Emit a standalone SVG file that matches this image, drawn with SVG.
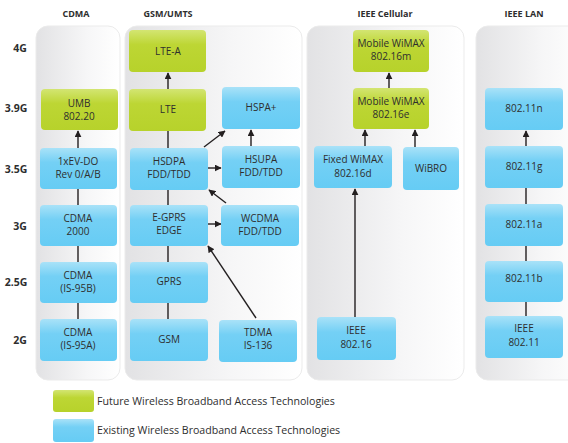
<svg xmlns="http://www.w3.org/2000/svg" width="568" height="443" viewBox="0 0 568 443">
<defs>
<linearGradient id="panel" x1="0" y1="0" x2="1" y2="0">
<stop offset="0" stop-color="#e2e2e4"/>
<stop offset="0.6" stop-color="#f6f6f7"/>
<stop offset="1" stop-color="#ffffff"/>
</linearGradient>
<linearGradient id="blue" x1="0" y1="0" x2="0" y2="1">
<stop offset="0" stop-color="#a9e2f8"/>
<stop offset="0.35" stop-color="#74d0f5"/>
<stop offset="1" stop-color="#66ccf4"/>
</linearGradient>
<linearGradient id="green" x1="0" y1="0" x2="0" y2="1">
<stop offset="0" stop-color="#d3e572"/>
<stop offset="0.35" stop-color="#bdd634"/>
<stop offset="1" stop-color="#b7d22b"/>
</linearGradient>
<marker id="ah" viewBox="0 0 10 10" refX="9" refY="5" markerWidth="7" markerHeight="7" orient="auto" markerUnits="userSpaceOnUse">
<path d="M0,0 L10,5 L0,10 z" fill="#231f20"/>
</marker>
<style>
.panel{fill:url(#panel);stroke:#ebebeb;stroke-width:1}
.b{fill:url(#blue)}
.g{fill:url(#green)}
text{font-family:"Open Sans","Liberation Sans",sans-serif;font-size:10px;fill:#2e2e2e;text-anchor:middle}
.hdr{font-weight:bold;font-size:9px}
.row{font-weight:bold;font-size:10.5px;text-anchor:middle}
.leg{text-anchor:start;font-size:10.6px}
.c line{stroke:#231f20;stroke-width:1.4}
.c .a{marker-end:url(#ah)}
</style>
</defs>
<rect width="568" height="443" fill="#ffffff"/>

<g id="panels">
<rect class="panel" x="36" y="26" width="84" height="354" rx="12"/>
<rect class="panel" x="125" y="26" width="177" height="354" rx="12"/>
<rect class="panel" x="307" y="26" width="157" height="354" rx="12"/>
<rect class="panel" x="476" y="26" width="110" height="354" rx="12"/>
</g>

<g id="headers">
<text class="hdr" x="76" y="17">CDMA</text>
<text class="hdr" x="168" y="17">GSM/UMTS</text>
<text class="hdr" x="385" y="17">IEEE Cellular</text>
<text class="hdr" x="524" y="17">IEEE LAN</text>
</g>

<g id="rows">
<text class="row" x="20" y="52">4G</text>
<text class="row" x="16" y="112">3.9G</text>
<text class="row" x="16" y="173">3.5G</text>
<text class="row" x="20" y="230">3G</text>
<text class="row" x="16" y="286">2.5G</text>
<text class="row" x="20" y="344">2G</text>
</g>

<g class="c" id="connectors">
<line x1="78" y1="319" x2="78" y2="303"/>
<line x1="78" y1="262" x2="78" y2="246"/>
<line x1="78" y1="205" x2="78" y2="189"/>
<line class="a" x1="78" y1="148" x2="78" y2="131"/>
<line x1="168" y1="319" x2="168" y2="303"/>
<line x1="168" y1="262" x2="168" y2="246"/>
<line x1="168" y1="205" x2="168" y2="190"/>
<line x1="168" y1="148" x2="168" y2="131"/>
<line class="a" x1="168" y1="89" x2="168" y2="73"/>
<line class="a" x1="204" y1="147" x2="225" y2="131"/>
<line class="a" x1="251" y1="157" x2="251" y2="130"/>
<line class="a" x1="208" y1="168" x2="221" y2="168"/>
<line class="a" x1="226" y1="203" x2="209" y2="190"/>
<line class="a" x1="208" y1="224" x2="221" y2="224"/>
<line class="a" x1="256" y1="318" x2="208" y2="246"/>
<line class="a" x1="389" y1="88" x2="389" y2="73"/>
<line class="a" x1="365" y1="146" x2="365" y2="130"/>
<line class="a" x1="415" y1="147" x2="415" y2="130"/>
<line class="a" x1="355" y1="317" x2="355" y2="189"/>
<line class="a" x1="526" y1="146" x2="526" y2="131"/>
<line x1="526" y1="204" x2="526" y2="188"/>
<line x1="526" y1="261" x2="526" y2="246"/>
<line x1="526" y1="316" x2="526" y2="302"/>
</g>

<g id="umb"><rect class="g" x="41" y="89" width="77" height="41" rx="4"/><text x="79" y="107">UMB</text><text x="79" y="120">802.20</text></g>
<g id="evdo"><rect class="b" x="40" y="148" width="77" height="41" rx="4"/><text x="78" y="165">1xEV-DO</text><text x="78" y="178">Rev 0/A/B</text></g>
<g id="cdma2000"><rect class="b" x="40" y="205" width="77" height="41" rx="4"/><text x="78" y="222">CDMA</text><text x="78" y="235">2000</text></g>
<g id="is95b"><rect class="b" x="40" y="262" width="77" height="41" rx="4"/><text x="78" y="279">CDMA</text><text x="78" y="292">(IS-95B)</text></g>
<g id="is95a"><rect class="b" x="40" y="319" width="77" height="42" rx="4"/><text x="78" y="336">CDMA</text><text x="78" y="349">(IS-95A)</text></g>

<g id="ltea"><rect class="g" x="129" y="30" width="77" height="42" rx="4"/><text x="168" y="55">LTE-A</text></g>
<g id="lte"><rect class="g" x="129" y="89" width="77" height="42" rx="4"/><text x="168" y="113">LTE</text></g>
<g id="hspap"><rect class="b" x="222" y="87" width="78" height="42" rx="4"/><text x="261" y="111">HSPA+</text></g>
<g id="hsdpa"><rect class="b" x="130" y="148" width="78" height="42" rx="4"/><text x="169" y="165">HSDPA</text><text x="169" y="178">FDD/TDD</text></g>
<g id="hsupa"><rect class="b" x="222" y="146" width="78" height="42" rx="4"/><text x="261" y="163">HSUPA</text><text x="261" y="176">FDD/TDD</text></g>
<g id="edge"><rect class="b" x="130" y="205" width="78" height="41" rx="4"/><text x="169" y="221">E-GPRS</text><text x="169" y="234">EDGE</text></g>
<g id="wcdma"><rect class="b" x="221" y="205" width="78" height="41" rx="4"/><text x="260" y="222">WCDMA</text><text x="260" y="235">FDD/TDD</text></g>
<g id="gprs"><rect class="b" x="130" y="262" width="78" height="41" rx="4"/><text x="169" y="285">GPRS</text></g>
<g id="gsm"><rect class="b" x="130" y="319" width="78" height="42" rx="4"/><text x="169" y="343">GSM</text></g>
<g id="tdma"><rect class="b" x="219" y="320" width="78" height="42" rx="4"/><text x="258" y="336">TDMA</text><text x="258" y="349">IS-136</text></g>

<g id="wimaxm"><rect class="g" x="353" y="30" width="76" height="42" rx="4"/><text x="391" y="47">Mobile WiMAX</text><text x="391" y="60">802.16m</text></g>
<g id="wimaxe"><rect class="g" x="353" y="88" width="76" height="41" rx="4"/><text x="391" y="105">Mobile WiMAX</text><text x="391" y="118">802.16e</text></g>
<g id="wimaxd"><rect class="b" x="314" y="146" width="78" height="42" rx="4"/><text x="353" y="163">Fixed WiMAX</text><text x="353" y="177">802.16d</text></g>
<g id="wibro"><rect class="b" x="403" y="147" width="56" height="43" rx="4"/><text x="431" y="172">WiBRO</text></g>
<g id="ieee80216"><rect class="b" x="317" y="317" width="79" height="43" rx="4"/><text x="356" y="334">IEEE</text><text x="356" y="348">802.16</text></g>

<g id="n80211n"><rect class="b" x="485" y="88" width="78" height="42" rx="4"/><text x="524" y="112">802.11n</text></g>
<g id="n80211g"><rect class="b" x="485" y="146" width="78" height="42" rx="4"/><text x="524" y="170">802.11g</text></g>
<g id="n80211a"><rect class="b" x="485" y="204" width="78" height="42" rx="4"/><text x="524" y="228">802.11a</text></g>
<g id="n80211b"><rect class="b" x="485" y="261" width="78" height="41" rx="4"/><text x="524" y="282">802.11b</text></g>
<g id="n80211"><rect class="b" x="485" y="316" width="78" height="42" rx="4"/><text x="524" y="332">IEEE</text><text x="524" y="346">802.11</text></g>

<g id="legend">
<rect class="g" x="53" y="390" width="41" height="22" rx="3"/>
<text class="leg" x="97" y="405">Future Wireless Broadband Access Technologies</text>
<rect class="b" x="53" y="419" width="41" height="23" rx="3"/>
<text class="leg" x="97" y="434">Existing Wireless Broadband Access Technologies</text>
</g>
</svg>
